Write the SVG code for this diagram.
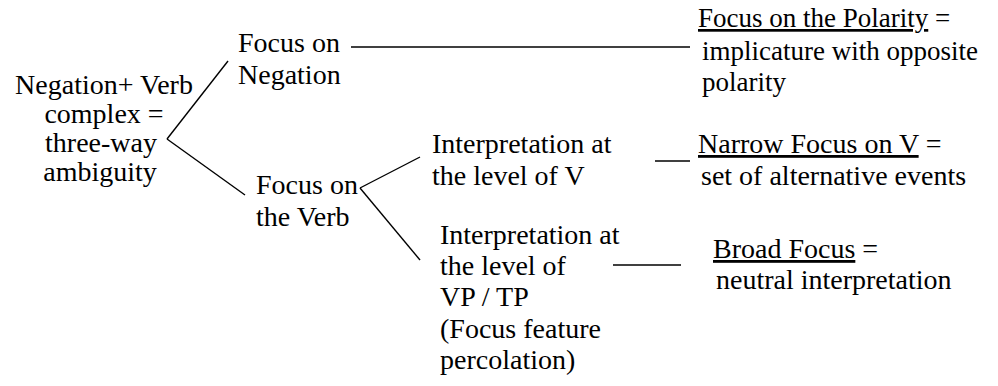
<svg xmlns="http://www.w3.org/2000/svg" width="998" height="386" viewBox="0 0 998 386" font-family="'Liberation Serif', 'Times New Roman', Times, serif">
<style>
text{font-family:'Liberation Serif','Times New Roman',Times,serif;font-size:28px;fill:#000}
.s{font-size:27px}
.m{text-anchor:middle}
.u{text-decoration:underline}
.c line{stroke:#000;stroke-width:1.4;fill:none}
</style>
<rect width="998" height="386" fill="#fff"/>
<g class="c" id="connectors">
<line x1="167" y1="139" x2="228" y2="61"/>
<line x1="167" y1="139" x2="245" y2="195"/>
<line x1="351" y1="47" x2="690" y2="47"/>
<line x1="360" y1="188" x2="420" y2="157"/>
<line x1="360" y1="188" x2="420" y2="260"/>
<line x1="655" y1="161" x2="690" y2="161"/>
<line x1="613" y1="265" x2="681" y2="265"/>
</g>
<g id="root">
<text class="m" x="104" y="94">Negation+ Verb</text>
<text class="m" x="104" y="123">complex =</text>
<text class="m" x="101" y="152">three-way</text>
<text class="m" x="100" y="181">ambiguity</text>
</g>
<g id="focus-neg">
<text x="238" y="52">Focus on</text>
<text x="238" y="84">Negation</text>
</g>
<g id="focus-verb">
<text x="256" y="194">Focus on</text>
<text x="256" y="226">the Verb</text>
</g>
<g id="interp-v">
<text x="432" y="153">Interpretation at</text>
<text x="432" y="185">the level of V</text>
</g>
<g id="interp-vp">
<text x="440" y="244">Interpretation at</text>
<text x="440" y="275">the level of</text>
<text x="440" y="306">VP / TP</text>
<text x="440" y="338">(Focus feature</text>
<text x="440" y="369">percolation)</text>
</g>
<g id="polarity" class="p">
<text class="s" x="698" y="27"><tspan class="u">Focus on the Polarity</tspan> =</text>
<text class="s" x="702" y="60">implicature with opposite</text>
<text class="s" x="702" y="91">polarity</text>
</g>
<g id="narrow">
<text x="698" y="153"><tspan class="u">Narrow Focus on V</tspan> =</text>
<text x="701" y="185">set of alternative events</text>
</g>
<g id="broad">
<text x="713" y="258"><tspan class="u">Broad Focus</tspan> =</text>
<text x="716" y="289">neutral interpretation</text>
</g>
</svg>
